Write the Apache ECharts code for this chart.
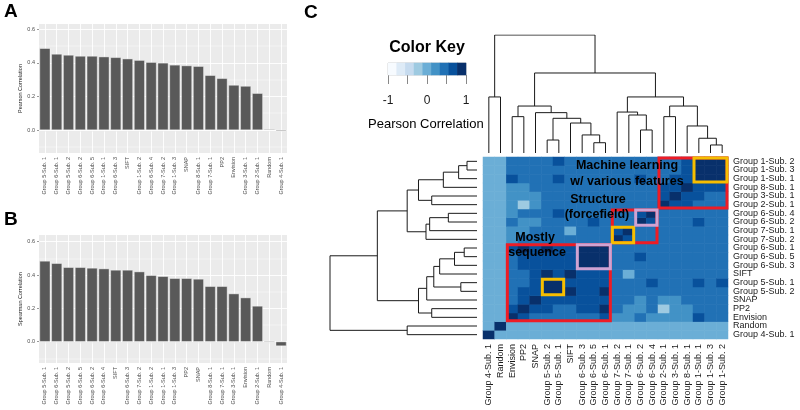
<!DOCTYPE html>
<html><head><meta charset="utf-8">
<script src="https://cdn.jsdelivr.net/npm/echarts@6/dist/echarts.min.js"></script>
<style>html,body{margin:0;padding:0;background:#fff}#c{width:800px;height:410px}</style>
</head><body><div id="c"></div>
<script>
// ---------- Panel A / B data ----------
const pearsonCats = ['Group 5-Sub. 1','Group 6-Sub. 1','Group 5-Sub. 2','Group 6-Sub. 2','Group 6-Sub. 5','Group 1-Sub. 1','Group 6-Sub. 3','SIFT','Group 1-Sub. 2','Group 6-Sub. 4','Group 7-Sub. 2','Group 1-Sub. 3','SNAP','Group 8-Sub. 1','Group 7-Sub. 1','PP2','Envision','Group 3-Sub. 1','Group 2-Sub. 1','Random','Group 4-Sub. 1'];
const pearsonVals = [0.487,0.453,0.447,0.441,0.441,0.437,0.433,0.425,0.416,0.404,0.400,0.388,0.384,0.380,0.326,0.308,0.268,0.262,0.219,0.005,-0.006];
const spearmanCats = ['Group 5-Sub. 1','Group 6-Sub. 1','Group 5-Sub. 2','Group 6-Sub. 5','Group 6-Sub. 2','Group 6-Sub. 4','SIFT','Group 6-Sub. 3','Group 7-Sub. 2','Group 1-Sub. 2','Group 1-Sub. 1','Group 1-Sub. 3','PP2','SNAP','Group 8-Sub. 1','Group 7-Sub. 1','Group 3-Sub. 1','Envision','Group 2-Sub. 1','Random','Group 4-Sub. 1'];
const spearmanVals = [0.484,0.470,0.446,0.446,0.442,0.438,0.430,0.430,0.420,0.398,0.392,0.380,0.380,0.376,0.332,0.332,0.288,0.264,0.214,0.005,-0.026];
const barTickLabels = [0, 0.2, 0.4, 0.6];
const barMinorTicks = [-0.1, 0.1, 0.3, 0.5];

// ---------- Panel C data ----------
const heatLabels = ['Group 4-Sub. 1','Random','Envision','PP2','SNAP','Group 5-Sub. 2','Group 5-Sub. 1','SIFT','Group 6-Sub. 3','Group 6-Sub. 5','Group 6-Sub. 1','Group 7-Sub. 2','Group 7-Sub. 1','Group 6-Sub. 2','Group 6-Sub. 4','Group 2-Sub. 1','Group 3-Sub. 1','Group 8-Sub. 1','Group 1-Sub. 1','Group 1-Sub. 3','Group 1-Sub. 2'];
const corrMatrix = [
 [1,.03,.04,.05,.03,.04,.05,.04,.03,.04,.05,.04,.03,.04,.05,.03,.04,.05,.04,.03,.04],
 [.03,1,.02,.03,.02,.03,.02,.03,.02,.03,.02,.03,.02,.03,.02,.03,.02,.03,.02,.03,.02],
 [.04,.02,1,.6,.5,.5,.5,.45,.5,.5,.6,.3,.3,.45,.3,.25,.3,.3,.6,.35,.4],
 [.05,.03,.6,1,.62,.65,.55,.5,.6,.6,.8,.35,.3,.3,.4,-.15,.25,.3,.4,.35,.4],
 [.03,.02,.5,.62,1,.7,.68,.65,.62,.62,.66,.4,.4,.32,.4,.28,.3,.35,.4,.4,.4],
 [.04,.03,.5,.65,.7,1,.93,.8,.7,.7,.8,.45,.45,.5,.5,.4,.45,.45,.5,.5,.5],
 [.05,.02,.5,.55,.68,.93,1,.72,.7,.72,.74,.45,.4,.5,.6,.45,.45,.5,.6,.5,.6],
 [.04,.03,.45,.5,.65,.8,.72,1,.7,.7,.72,.4,.1,.4,.45,.4,.4,.45,.45,.45,.45],
 [.03,.02,.5,.6,.62,.7,.7,.7,1,.9,.88,.45,.4,.5,.5,.4,.45,.45,.5,.45,.45],
 [.04,.03,.5,.6,.62,.7,.72,.7,.9,1,.92,.45,.45,.58,.5,.4,.45,.5,.5,.5,.5],
 [.05,.02,.6,.8,.66,.8,.74,.72,.88,.92,1,.5,.45,.5,.55,.45,.45,.45,.5,.45,.5],
 [.04,.03,.3,.35,.4,.45,.45,.4,.45,.45,.5,1,.62,.5,.5,.45,.45,.4,.45,.45,.45],
 [.03,.02,.3,.3,.4,.45,.4,.1,.4,.45,.45,.62,1,.48,.5,.4,.45,.45,.5,.45,.45],
 [.04,.03,.45,.3,.32,.5,.5,.4,.5,.58,.5,.5,.48,1,.7,.45,.5,.5,.6,.5,.5],
 [.05,.02,.3,.4,.4,.5,.6,.45,.5,.5,.55,.5,.5,.7,1,.45,.5,.5,.55,.5,.5],
 [.03,.03,.25,-.15,.28,.4,.45,.4,.4,.4,.45,.45,.4,.45,.45,1,.66,.6,.55,.5,.5],
 [.04,.02,.3,.25,.3,.45,.45,.4,.45,.45,.45,.45,.45,.5,.5,.66,1,.7,.6,.55,.5],
 [.05,.03,.3,.3,.35,.45,.5,.45,.45,.5,.45,.4,.45,.5,.5,.6,.7,1,.7,.65,.6],
 [.04,.02,.6,.4,.4,.5,.6,.45,.5,.5,.5,.45,.5,.6,.55,.55,.6,.7,1,.9,.88],
 [.03,.03,.35,.35,.4,.5,.5,.45,.45,.5,.45,.45,.45,.5,.5,.5,.55,.65,.9,1,.95],
 [.04,.02,.4,.4,.4,.5,.6,.45,.45,.5,.5,.45,.45,.5,.5,.5,.5,.6,.88,.95,1]
];
// hierarchical clustering merges: [child, child, height]; strings = leaves, numbers = earlier merge index
const dendroMerges = [
 ['Group 5-Sub. 2','Group 5-Sub. 1',0.11],   //0
 ['Group 6-Sub. 5','Group 6-Sub. 1',0.087],  //1
 ['Group 6-Sub. 3',1,0.153],                 //2
 ['SIFT',2,0.254],                           //3
 [0,3,0.294],                                //4
 ['SNAP',4,0.342],                           //5
 ['Envision','PP2',0.308],                   //6
 [6,5,0.398],                                //7
 ['Group 6-Sub. 2','Group 6-Sub. 4',0.195],  //8
 ['Group 7-Sub. 1',8,0.322],                 //9
 ['Group 7-Sub. 2',9,0.347],                 //10
 ['Group 2-Sub. 1','Group 3-Sub. 1',0.308],  //11
 ['Group 1-Sub. 3','Group 1-Sub. 2',0.068],  //12
 ['Group 1-Sub. 1',12,0.125],                //13
 ['Group 8-Sub. 1',13,0.229],                //14
 [11,14,0.398],                              //15
 [10,15,0.475],                              //16
 [7,16,0.678],                               //17
 ['Group 4-Sub. 1','Random',0.475],          //18
 [18,17,1.0]                                 //19
];
const keyBreaks = [-1,-0.778,-0.556,-0.333,-0.111,0.111,0.333,0.556,0.778,1];
const keyColors = ['#F7FBFF','#DEEBF7','#C6DBEF','#9ECAE1','#6BAED6','#4292C6','#2171B5','#08519C','#08306B'];
const keyTickLabels = [-1, 0, 1];
// annotation boxes: [firstLabel, lastLabel, kind]
const boxes = [
 ['Envision','Group 6-Sub. 1','red'],
 ['Group 7-Sub. 2','Group 6-Sub. 4','red'],
 ['Group 2-Sub. 1','Group 1-Sub. 2','red'],
 ['Group 1-Sub. 1','Group 1-Sub. 2','yellow'],
 ['Group 7-Sub. 2','Group 7-Sub. 1','yellow'],
 ['Group 5-Sub. 2','Group 5-Sub. 1','yellow'],
 ['Group 6-Sub. 2','Group 6-Sub. 4','pink'],
 ['Group 6-Sub. 3','Group 6-Sub. 1','pink']
];
const boxColors = {red:'#EE1C25', yellow:'#F6BE00', pink:'#CFA3D3'};
// annotation labels and their anchor in heatmap cell units (column, row)
const annTexts = ['Machine learning','w/ various features','Structure','(forcefield)','Mostly','sequence'];
const annCol = [11.84, 11.84, 9.36, 9.27, 3.96, 4.13];
const annRow = [19.46, 17.62, 15.54, 13.81, 11.15, 9.42];

const FONT = 'Liberation Sans, Arial, Helvetica, sans-serif';
const chart = echarts.init(document.getElementById('c'), null, {renderer:'canvas'});

const grids = [], xAxes = [], yAxes = [], series = [];

function barPanel(top, height, cats, vals, yName, ymin, ymax) {
  const gi = grids.length;
  grids.push({left:39, top:top, width:248, height:height, show:true, backgroundColor:'#EBEBEB', borderWidth:0, containLabel:false});
  const xi = xAxes.length, yi = yAxes.length;
  xAxes.push({type:'category', gridIndex:gi, data:cats, boundaryGap:true,
    axisLine:{show:false}, axisTick:{show:true, alignWithLabel:true, length:2, lineStyle:{color:'#333', width:0.5}},
    axisLabel:{rotate:90, interval:0, fontSize:5.5, color:'#4D4D4D', margin:4, fontFamily:FONT},
    splitLine:{show:false}});
  yAxes.push({type:'value', gridIndex:gi, min:ymin, max:ymax, name:yName, nameLocation:'middle', nameGap:13,
    nameTextStyle:{fontSize:5.5, color:'#222', fontFamily:FONT},
    axisLine:{show:false}, axisTick:{show:true, length:2, customValues:barTickLabels, lineStyle:{color:'#333', width:0.5}},
    axisLabel:{fontSize:5.5, color:'#4D4D4D', margin:4, customValues:barTickLabels, fontFamily:FONT, formatter:v=>v.toFixed(1)},
    splitLine:{show:false}});
  const ml = [];
  barTickLabels.forEach(v=>ml.push({yAxis:v, lineStyle:{width:0.9}}));
  barMinorTicks.forEach(v=>ml.push({yAxis:v, lineStyle:{width:0.4}}));
  cats.forEach(c=>ml.push({xAxis:c, lineStyle:{width:0.9}}));
  series.push({type:'bar', xAxisIndex:xi, yAxisIndex:yi, data:vals, barCategoryGap:'10%', z:3,
    itemStyle:{color:'#595959', borderColor:'#FFFFFF', borderWidth:0.4}, silent:true, animation:false,
    markLine:{silent:true, z:1, symbol:['none','none'], label:{show:false}, animation:false,
      lineStyle:{color:'#FFFFFF', type:'solid'}, emphasis:{disabled:true}, data:ml}});
}
barPanel(24, 129, pearsonCats, pearsonVals, 'Pearson Correlation', -0.137, 0.632);
barPanel(235, 128, spearmanCats, spearmanVals, 'Spearman Correlation', -0.128, 0.64);

// ---------- Heatmap ----------
const hg = grids.length;
grids.push({left:483, top:157, width:245, height:182, show:false});
const hx = xAxes.length, hy = yAxes.length;
xAxes.push({type:'category', gridIndex:hg, data:heatLabels, position:'bottom',
  axisLine:{show:false}, axisTick:{show:false}, splitLine:{show:false},
  axisLabel:{rotate:90, interval:0, fontSize:9, color:'#1a1a1a', margin:5, fontFamily:FONT}});
yAxes.push({type:'category', gridIndex:hg, data:heatLabels, position:'right',
  axisLine:{show:false}, axisTick:{show:false}, splitLine:{show:false},
  axisLabel:{interval:0, fontSize:9, color:'#1a1a1a', margin:5, fontFamily:FONT}});
const heatData = [];
corrMatrix.forEach((row,i)=>row.forEach((v,j)=>heatData.push([i,j,v])));
const heatIdx = series.length;
series.push({type:'heatmap', xAxisIndex:hx, yAxisIndex:hy, data:heatData, silent:true, animation:false,
  itemStyle:{borderWidth:0}, progressive:0});

const boxData = boxes.map(b=>{
  const a = heatLabels.indexOf(b[0]), z = heatLabels.indexOf(b[1]);
  return [a, z, a, z, b[2]];
});
series.push({type:'custom', xAxisIndex:hx, yAxisIndex:hy, data:boxData, silent:true, animation:false, z:10,
  encode:{x:[0,1], y:[2,3]},
  renderItem:function(params, api){
    const x0 = api.value(0), x1 = api.value(1), y0 = api.value(2), y1 = api.value(3);
    const sz = api.size([1,1]);
    const p0 = api.coord([x0, y1]);
    const p1 = api.coord([x1, y0]);
    const l = p0[0]-sz[0]/2, t = p0[1]-sz[1]/2, r = p1[0]+sz[0]/2, b = p1[1]+sz[1]/2;
    const kind = boxData[params.dataIndex][4];
    return {type:'rect', shape:{x:l+1, y:t+1, width:r-l-2, height:b-t-2},
      style:{fill:null, stroke:boxColors[kind], lineWidth:3}};
  }});
const annData = annTexts.map((t,k)=>[annCol[k], annRow[k], t]);
series.push({type:'custom', xAxisIndex:hx, yAxisIndex:hy, data:annData, silent:true, animation:false, z:20,
  encode:{x:0, y:1},
  renderItem:function(params, api){
    const d = annData[params.dataIndex];
    const c0 = Math.floor(d[0]), r0 = Math.floor(d[1]);
    const p = api.coord([c0, r0]);
    const sz = api.size([1,1]);
    const x = p[0] + (d[0]-c0)*sz[0];
    const y = p[1] - (d[1]-r0)*sz[1];
    return {type:'text', z2:100, style:{text:d[2], x:x, y:y,
      fill:'#000000', font:'bold 12.5px '+FONT, align:'center', verticalAlign:'middle'}};
  }});

// ---------- Dendrograms ----------
function buildDendro(merges, leaves, swap){
  const pos=[], hgt=[], out=[];
  const ref = r => (typeof r === 'string') ? {p:leaves.indexOf(r)+0.5, h:0} : {p:pos[r], h:hgt[r]};
  merges.forEach((m,k)=>{
    const a=ref(m[0]), b=ref(m[1]);
    pos[k]=(a.p+b.p)/2; hgt[k]=m[2];
    let pts=[[a.p,a.h],[a.p,m[2]],[b.p,m[2]],[b.p,b.h]];
    if (swap) pts = pts.map(q=>[q[1],q[0]]);
    out.push({coords:pts});
  });
  return out;
}
const tg = grids.length;
grids.push({left:483, top:35, width:245, height:118, show:false});
const tx = xAxes.length, ty = yAxes.length;
xAxes.push({type:'value', gridIndex:tg, min:0, max:heatLabels.length, show:false});
yAxes.push({type:'value', gridIndex:tg, min:0, max:1, show:false});
series.push({type:'lines', coordinateSystem:'cartesian2d', xAxisIndex:tx, yAxisIndex:ty, polyline:true,
  silent:true, animation:false, lineStyle:{color:'#1a1a1a', width:1, opacity:1},
  data:buildDendro(dendroMerges, heatLabels, false)});
const lg = grids.length;
grids.push({left:330, top:157, width:147, height:182, show:false});
const lx = xAxes.length, ly = yAxes.length;
xAxes.push({type:'value', gridIndex:lg, min:0, max:1, inverse:true, show:false});
yAxes.push({type:'value', gridIndex:lg, min:0, max:heatLabels.length, show:false});
series.push({type:'lines', coordinateSystem:'cartesian2d', xAxisIndex:lx, yAxisIndex:ly, polyline:true,
  silent:true, animation:false, lineStyle:{color:'#1a1a1a', width:1, opacity:1},
  data:buildDendro(dendroMerges, heatLabels, true)});

// ---------- Colour key ----------
const kg = grids.length;
grids.push({left:388, top:63, width:78, height:12, show:true, borderColor:'#AAAAAA', borderWidth:0.6, backgroundColor:'transparent'});
const kx = xAxes.length, ky = yAxes.length;
const keyCells = keyColors.map((c,k)=>'k'+k);
xAxes.push({type:'category', gridIndex:kg, data:keyCells, show:false});
xAxes.push({type:'value', gridIndex:kg, min:-1, max:1, interval:0.5, position:'bottom',
  axisLine:{show:false}, splitLine:{show:false},
  axisTick:{show:true, length:9, lineStyle:{color:'#888', width:1}},
  axisLabel:{fontSize:12, color:'#1a1a1a', margin:20, fontFamily:FONT, showMinLabel:true, showMaxLabel:true,
    formatter:v=> keyTickLabels.indexOf(v)>=0 ? String(v) : ''}});
yAxes.push({type:'category', gridIndex:kg, data:['key'], show:false});
const keyData = keyColors.map((c,k)=>[k,0,(keyBreaks[k]+keyBreaks[k+1])/2]);
const keyIdx = series.length;
series.push({type:'heatmap', xAxisIndex:kx, yAxisIndex:ky, data:keyData, silent:true, animation:false});

const pieces = keyColors.map((c,k)=> k===keyColors.length-1
  ? {gte:keyBreaks[k], lte:keyBreaks[k+1], color:c}
  : {gte:keyBreaks[k], lt:keyBreaks[k+1], color:c});

const txt = (text, x, y, size, weight, align) => ({type:'text', silent:true, z:100,
  style:{text:text, x:x, y:y, fill:'#000', font:(weight||'normal')+' '+size+'px '+FONT, textAlign:align||'center', textVerticalAlign:'middle'}});

chart.setOption({
  animation:false,
  backgroundColor:'#FFFFFF',
  grid:grids, xAxis:xAxes, yAxis:yAxes, series:series,
  visualMap:[{type:'piecewise', show:false, seriesIndex:[heatIdx,keyIdx], dimension:2, pieces:pieces}],
  graphic:[
    txt('A', 4, 12, 19, 'bold', 'left'),
    txt('B', 4, 220, 19, 'bold', 'left'),
    txt('C', 304, 13, 19, 'bold', 'left'),
    txt('Color Key', 427, 48, 16, 'bold', 'center'),
    txt('Pearson Correlation', 368, 124, 13, 'normal', 'left')
  ]
});
</script></body></html>
